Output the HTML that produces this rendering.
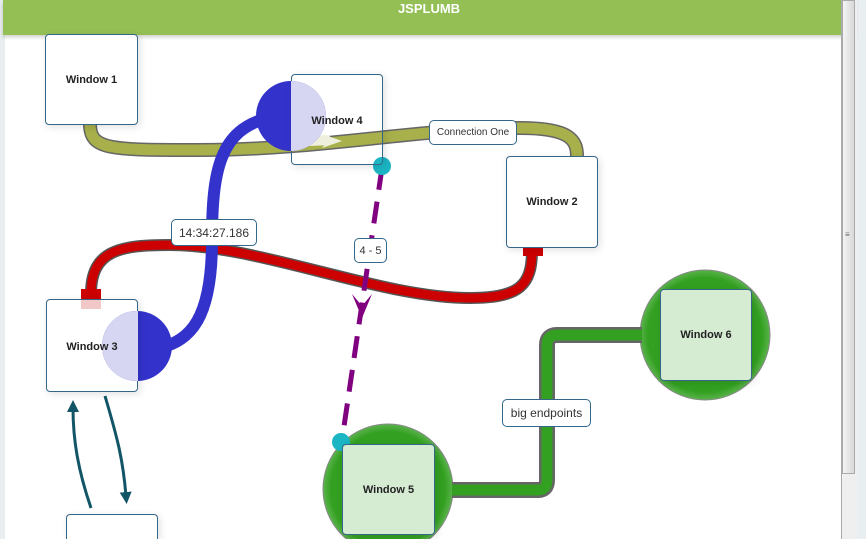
<!DOCTYPE html>
<html><head><style>
html,body{margin:0;padding:0;width:866px;height:539px;overflow:hidden;background:#e9eef1;font-family:"Liberation Sans",sans-serif;position:relative}
svg{position:absolute;left:0;top:0}
.w{position:absolute;background:#fff;border:1px solid #346789;border-radius:4px;box-sizing:border-box;font-size:11px;font-weight:bold;color:#222;display:flex;align-items:center;justify-content:center;box-shadow:2px 2px 8px rgba(0,0,0,0.12)}
.g{background:#d5ecd3}
.lb{position:absolute;background:#fff;border:1px solid #346789;border-radius:5px;box-sizing:border-box;font-size:11px;color:#333;display:flex;align-items:center;justify-content:center}
</style></head><body>
<div style="position:absolute;left:5px;top:0;width:836px;height:539px;background:#fff"></div>
<div style="position:absolute;left:3px;top:0;width:852px;height:35px;background:#93bf55;box-shadow:0 2px 4px rgba(0,0,0,0.2);color:#fff;font-weight:bold;font-size:13px;text-align:center;line-height:18px">JSPLUMB</div>
<div style="position:absolute;left:841px;top:0;width:15px;height:539px;background:#efefef;border-left:1px solid #aaa"></div>
<div style="position:absolute;left:842px;top:0;width:13px;height:474px;background:linear-gradient(90deg,#f4f4f4,#d8d8d8);border:1px solid #aaa;box-sizing:border-box"></div>
<div style="position:absolute;left:845px;top:230px;font-size:8px;color:#666">≡</div>
<svg width="866" height="539">
<defs>
<radialGradient id="gg" cx="50%" cy="50%" r="50%"><stop offset="88%" stop-color="#33a021"/><stop offset="100%" stop-color="#5bb34c"/></radialGradient>
<marker id="ta" markerWidth="14" markerHeight="14" refX="4" refY="6" orient="auto" markerUnits="userSpaceOnUse"><path d="M0,0 L12,6 L0,12z" fill="#115566"/></marker>
</defs>
<path d="M90,124 C90,150 110,150 200,150 C320,150 420,128 520,128 C570,128 577,140 577,156" fill="none" stroke="#666" stroke-width="14"/>
<path d="M90,124 C90,150 110,150 200,150 C320,150 420,128 520,128 C570,128 577,140 577,156" fill="none" stroke="#a7b04b" stroke-width="11"/>
<path d="M290,142 L330,140" stroke="#eef0dd" stroke-width="10"/>
<path d="M322,134 L342,141 L322,148 L328,141z" fill="#eef0dd"/>
<ellipse cx="388" cy="489" rx="65" ry="65" fill="url(#gg)" stroke="#888"/>
<ellipse cx="705" cy="335" rx="65" ry="65" fill="url(#gg)" stroke="#888"/>
<path d="M452,490 L538,490 Q547,490 547,480 L547,345 Q547,335 557,335 L642,335" fill="none" stroke="#666" stroke-width="16"/>
<path d="M452,490 L538,490 Q547,490 547,480 L547,345 Q547,335 557,335 L642,335" fill="none" stroke="#33a021" stroke-width="11"/>
<path d="M91,294 C91,250 120,245 170,245 C260,245 380,298 470,298 C520,298 532,285 532,250" fill="none" stroke="#555" stroke-width="12"/>
<path d="M91,294 C91,250 120,245 170,245 C260,245 380,298 470,298 C520,298 532,285 532,250" fill="none" stroke="#c00" stroke-width="9"/>
<rect x="81" y="289" width="20" height="20" fill="#c00"/><rect x="81" y="299" width="20" height="10" fill="#f1c7c7"/>
<rect x="523" y="238" width="20" height="18" fill="#f1c7c7"/><rect x="523" y="247" width="20" height="9" fill="#c00"/>
<path d="M268,118 C220,130 212,170 212,240 C212,320 190,340 160,348" fill="none" stroke="#3333cc" stroke-width="12"/>
<ellipse cx="291" cy="116" rx="35" ry="35" fill="#3333cc"/>
<ellipse cx="137" cy="346" rx="35" ry="35" fill="#3333cc"/>
<path d="M382,168 L342,440" stroke="#800080" stroke-width="5" stroke-dasharray="22,12" fill="none"/>
<path d="M352,294 L362,306 L372,294 L362,318z" fill="#800080"/>
<circle cx="382" cy="166" r="9" fill="#1bb5c4"/>
<circle cx="341" cy="442" r="9" fill="#1bb5c4"/>
<path d="M91,508 C78,470 73,440 73,408" fill="none" stroke="#115566" stroke-width="3" marker-end="url(#ta)"/>
<path d="M105,396 C118,440 123,460 126,496" fill="none" stroke="#115566" stroke-width="3" marker-end="url(#ta)"/>
</svg>
<div class="w" style="left:45px;top:34px;width:93px;height:91px">Window 1</div>
<div class="w" style="left:291px;top:74px;width:92px;height:91px;background:transparent"></div>
<div class="w" style="left:506px;top:156px;width:92px;height:92px">Window 2</div>
<div class="w" style="left:46px;top:299px;width:92px;height:93px;background:transparent"></div>
<div class="w g" style="left:342px;top:444px;width:93px;height:91px">Window 5</div>
<div class="w g" style="left:660px;top:289px;width:92px;height:92px">Window 6</div>
<div class="w" style="left:66px;top:514px;width:92px;height:25px;border-bottom:none;border-radius:4px 4px 0 0"></div>
<svg width="866" height="539" style="pointer-events:none">
<clipPath id="c4"><rect x="291" y="74" width="92" height="91"/></clipPath>
<clipPath id="c3"><rect x="46" y="299" width="92" height="93"/></clipPath>
<ellipse cx="291" cy="116" rx="35" ry="35" fill="#d6d6f2" clip-path="url(#c4)"/>
<ellipse cx="137" cy="346" rx="35" ry="35" fill="#d6d6f2" clip-path="url(#c3)"/>
<text x="337" y="124" font-size="11" font-weight="bold" fill="#222" text-anchor="middle" font-family="Liberation Sans">Window 4</text>
<text x="92" y="350" font-size="11" font-weight="bold" fill="#222" text-anchor="middle" font-family="Liberation Sans">Window 3</text>
</svg>
<div class="lb" style="left:171px;top:219px;width:86px;height:27px;font-size:12px">14:34:27.186</div>
<div class="lb" style="left:354px;top:238px;width:33px;height:25px">4 - 5</div>
<div class="lb" style="left:429px;top:120px;width:88px;height:25px;font-size:10px">Connection One</div>
<div class="lb" style="left:502px;top:399px;width:89px;height:28px;font-size:12px">big endpoints</div>
</body></html>
